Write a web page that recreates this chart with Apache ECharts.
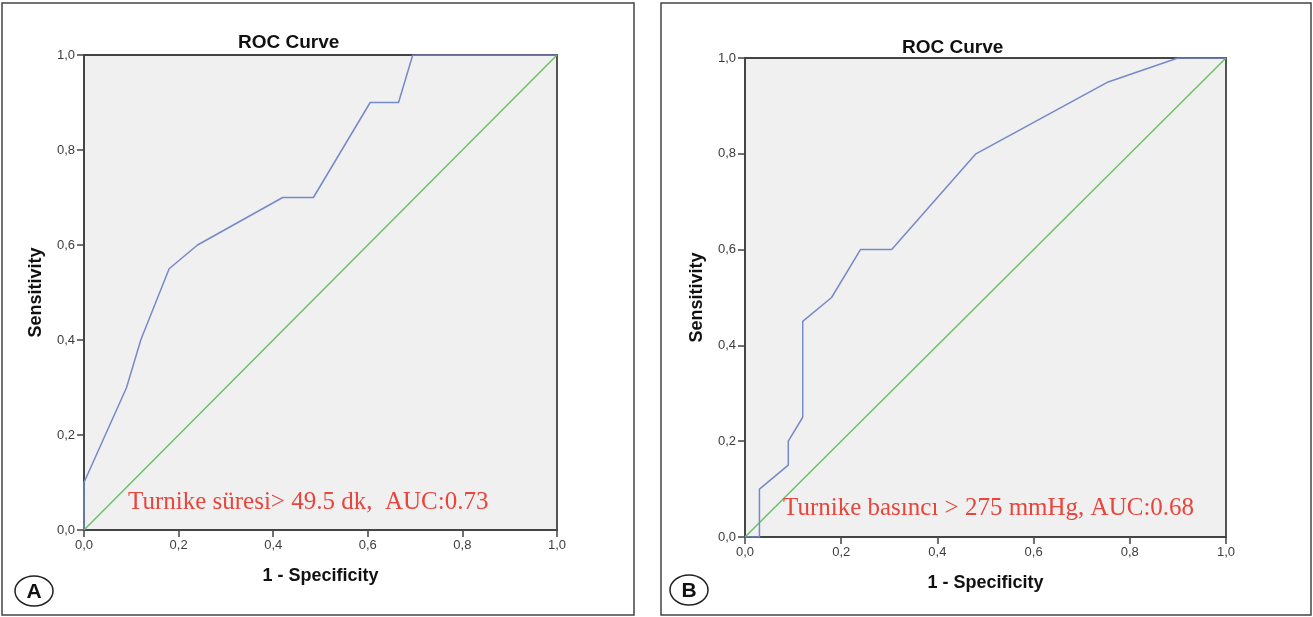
<!DOCTYPE html>
<html>
<head>
<meta charset="utf-8">
<script src="https://cdn.jsdelivr.net/npm/echarts@6/dist/echarts.min.js"></script>
<style>
  html, body { margin: 0; padding: 0; background: #fff; }
  #chart { width: 1313px; height: 617px; }
</style>
</head>
<body>
<div id="chart"></div>
<script>
// panel A: turnike süresi
var fprA = [0, 0, 0.09, 0.12, 0.18, 0.24, 0.42, 0.485, 0.605, 0.665, 0.695, 1];
var tprA = [0, 0.1, 0.3, 0.4, 0.55, 0.6, 0.7, 0.7, 0.9, 0.9, 1, 1];
// panel B: turnike basıncı
var fprB = [0, 0.03, 0.03, 0.09, 0.09, 0.12, 0.12, 0.18, 0.24, 0.305, 0.48, 0.755, 0.9, 1];
var tprB = [0, 0, 0.1, 0.15, 0.2, 0.25, 0.45, 0.5, 0.6, 0.6, 0.8, 0.95, 1, 1];
// reference line
var diag = [0, 1];

var textA = 'Turnike süresi> 49.5 dk,  AUC:0.73';
var textB = 'Turnike basıncı > 275 mmHg, AUC:0.68';

function pairs(xs, ys) {
    return xs.map(function (x, i) { return [x, ys[i]]; });
}

// SPSS style decimal comma
function fmt(v) {
    return v.toFixed(1).replace('.', ',');
}

var axisCommon = {
    type: 'value',
    min: 0,
    max: 1,
    interval: 0.2,
    splitLine: { show: false },
    axisLine: { show: true, lineStyle: { color: '#444', width: 1.8 } },
    axisTick: { show: true, length: 7, lineStyle: { color: '#444', width: 1.5 } },
    axisLabel: { color: '#3d3d3d', fontSize: 13, fontFamily: 'Liberation Sans', margin: 9, formatter: fmt },
    nameLocation: 'middle',
    nameTextStyle: { color: '#111', fontSize: 18, fontWeight: 'bold', fontFamily: 'Liberation Sans' }
};

function xAx(idx) {
    return Object.assign({}, axisCommon, { gridIndex: idx, name: '1 - Specificity', nameGap: 37 });
}
function yAx(idx) {
    return Object.assign({}, axisCommon, { gridIndex: idx, name: 'Sensitivity', nameGap: 39, nameRotate: 90 });
}

var chart = echarts.init(document.getElementById('chart'));

var blue = '#7689c8';
var green = '#6cc167';
var titleStyle = { fontSize: 19, fontWeight: 'bold', color: '#111', fontFamily: 'Liberation Sans' };

chart.setOption({
    animation: false,
    title: [
        { text: 'ROC Curve', left: 233, top: 28, textStyle: titleStyle },
        { text: 'ROC Curve', left: 897, top: 33, textStyle: titleStyle }
    ],
    grid: [
        { left: 84, top: 55, width: 473, height: 475, show: true, backgroundColor: '#f0f0f0', borderColor: '#444', borderWidth: 1.8 },
        { left: 745, top: 58, width: 481, height: 479, show: true, backgroundColor: '#f0f0f0', borderColor: '#444', borderWidth: 1.8 }
    ],
    xAxis: [xAx(0), xAx(1)],
    yAxis: [yAx(0), yAx(1)],
    series: [
        { type: 'line', xAxisIndex: 0, yAxisIndex: 0, data: pairs(diag, diag), symbol: 'none', lineStyle: { color: green, width: 1.5 } },
        { type: 'line', xAxisIndex: 0, yAxisIndex: 0, data: pairs(fprA, tprA), symbol: 'none', lineStyle: { color: blue, width: 1.5 } },
        { type: 'line', xAxisIndex: 1, yAxisIndex: 1, data: pairs(diag, diag), symbol: 'none', lineStyle: { color: green, width: 1.5 } },
        { type: 'line', xAxisIndex: 1, yAxisIndex: 1, data: pairs(fprB, tprB), symbol: 'none', lineStyle: { color: blue, width: 1.5 } }
    ],
    graphic: [
        { type: 'rect', shape: { x: 2, y: 3, width: 632, height: 612 }, style: { fill: 'none', stroke: '#444', lineWidth: 1.5 } },
        { type: 'rect', shape: { x: 661, y: 3, width: 650, height: 612 }, style: { fill: 'none', stroke: '#444', lineWidth: 1.5 } },
        { type: 'ellipse', shape: { cx: 34, cy: 591, rx: 19, ry: 15 }, style: { fill: '#fff', stroke: '#222', lineWidth: 1.5 } },
        { type: 'ellipse', shape: { cx: 689, cy: 590, rx: 19, ry: 15 }, style: { fill: '#fff', stroke: '#222', lineWidth: 1.5 } },
        { type: 'text', x: 34, y: 592, style: { text: 'A', fill: '#111', font: 'bold 21px "Liberation Sans"', align: 'center', verticalAlign: 'middle' } },
        { type: 'text', x: 689, y: 591, style: { text: 'B', fill: '#111', font: 'bold 21px "Liberation Sans"', align: 'center', verticalAlign: 'middle' } },
        { type: 'text', x: 128, y: 515, z: 10, style: { text: textA, fill: '#e8453c', font: '25px "Liberation Serif"', align: 'left', verticalAlign: 'bottom' } },
        { type: 'text', x: 783, y: 521, z: 10, style: { text: textB, fill: '#e8453c', font: '25px "Liberation Serif"', align: 'left', verticalAlign: 'bottom' } }
    ]
});
</script>
</body>
</html>
